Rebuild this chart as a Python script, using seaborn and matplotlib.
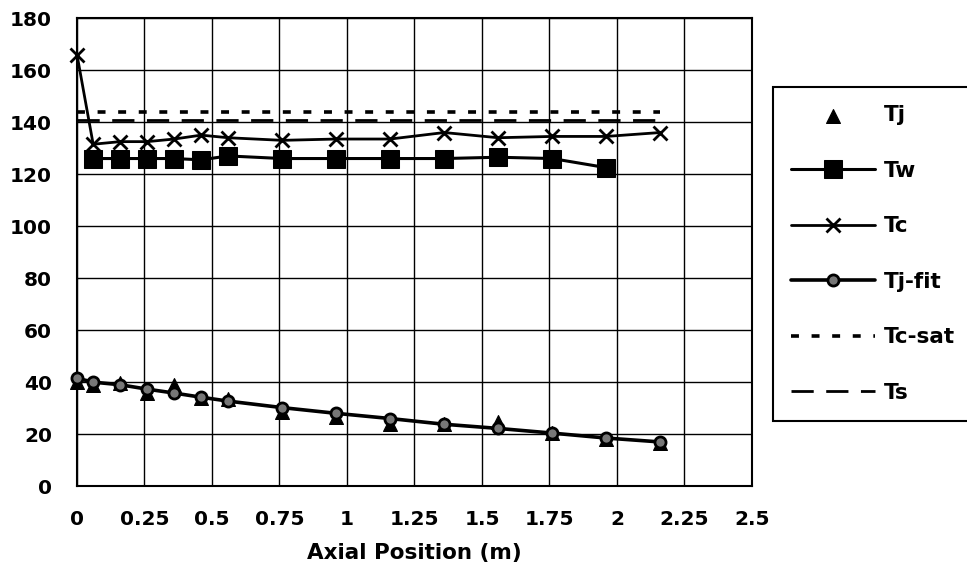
import matplotlib
matplotlib.use("Agg")
import matplotlib.pyplot as plt
import seaborn as sns

# axial positions (m)
x_tj = [0, 0.06, 0.16, 0.26, 0.36, 0.46, 0.56, 0.76, 0.96, 1.16, 1.36, 1.56, 1.76, 1.96, 2.16]
tj = [40, 39, 39.5, 36, 39, 34, 33.5, 28.5, 26.5, 24, 24, 24.5, 20.5, 18, 16.5]

x_tw = [0.06, 0.16, 0.26, 0.36, 0.46, 0.56, 0.76, 0.96, 1.16, 1.36, 1.56, 1.76, 1.96]
tw = [126, 126, 126, 126, 125.5, 127, 126, 126, 126, 126, 126.5, 126, 122.5]

x_tc = [0, 0.06, 0.16, 0.26, 0.36, 0.46, 0.56, 0.76, 0.96, 1.16, 1.36, 1.56, 1.76, 1.96, 2.16]
tc = [166, 131.5, 132.5, 132.5, 133.5, 135, 134, 133, 133.5, 133.5, 136, 134, 134.5, 134.5, 136]

x_fit = [0, 0.06, 0.16, 0.26, 0.36, 0.46, 0.56, 0.76, 0.96, 1.16, 1.36, 1.56, 1.76, 1.96, 2.16]
tj_fit = [41.5, 40, 39, 37.3, 35.8, 34.2, 32.7, 30.2, 28, 26, 23.8, 22.2, 20.4, 18.5, 17]

x_sat = [0, 2.16]
tc_sat = [144, 144]
ts = [141, 141]

sns.set_style("white")
plt.rcParams["font.family"] = ["DejaVu Sans"]
plt.rcParams["font.weight"] = "bold"
for key in ["text.color", "axes.labelcolor", "xtick.color", "ytick.color"]:
    plt.rcParams[key] = "black"

fig = plt.figure(figsize=(9.67, 5.85), dpi=100)
ax = fig.add_axes([0.0796, 0.169, 0.698, 0.8])

sns.scatterplot(x=x_tj, y=tj, ax=ax, marker="^", s=100, color="black",
                edgecolor="black", label="Tj", zorder=5, clip_on=False)
sns.lineplot(x=x_tw, y=tw, ax=ax, color="black", lw=2.2, marker="s", ms=13,
             mec="black", mfc="black", sort=False, label="Tw", zorder=4)
sns.lineplot(x=x_tc, y=tc, ax=ax, color="black", lw=2.0, marker="x", ms=10,
             mec="black", mew=2.0, sort=False, label="Tc", zorder=4, clip_on=False)
sns.lineplot(x=x_fit, y=tj_fit, ax=ax, color="black", lw=2.6, marker="o", ms=8,
             mfc="#777777", mec="black", mew=2, sort=False, label="Tj-fit", zorder=6,
             clip_on=False)
sns.lineplot(x=x_sat, y=tc_sat, ax=ax, color="black", lw=2.6, sort=False,
             label="Tc-sat", zorder=3)
sns.lineplot(x=x_sat, y=ts, ax=ax, color="black", lw=2.0, sort=False,
             label="Ts", zorder=3)
ax.lines[-2].set_dashes([2.2, 3.5])
ax.lines[-1].set_dashes([8, 4.5])

ax.set_xlim(0, 2.5)
ax.set_ylim(0, 180)
ax.set_xticks([0, 0.25, 0.5, 0.75, 1, 1.25, 1.5, 1.75, 2, 2.25, 2.5])
ax.set_xticklabels(["0", "0.25", "0.5", "0.75", "1", "1.25", "1.5", "1.75", "2", "2.25", "2.5"])
ax.set_yticks(range(0, 181, 20))
ax.grid(True, color="black", lw=1.0)
ax.set_axisbelow(True)
for sp in ax.spines.values():
    sp.set_color("black")
    sp.set_linewidth(1.5)
ax.tick_params(direction="inout", length=8, width=1.2, color="black", labelsize=14.5)
ax.tick_params(axis="x", pad=13)
ax.tick_params(axis="y", pad=14)
for lbl in ax.get_xticklabels() + ax.get_yticklabels():
    lbl.set_fontweight("bold")
ax.set_xlabel("Axial Position (m)", fontsize=15.5, fontweight="bold", labelpad=10)
ax.set_ylabel("")

handles, labels = ax.get_legend_handles_labels()
leg = ax.legend(handles, labels, loc="upper left",
                bbox_to_anchor=(773 / 967, 1 - 87 / 585), bbox_transform=fig.transFigure,
                frameon=True, fancybox=False, edgecolor="black", framealpha=1,
                prop={"weight": "bold", "size": 15.5}, handlelength=3.9,
                handletextpad=0.4, labelspacing=1.65, borderpad=0.85,
                borderaxespad=0)
leg.get_frame().set_linewidth(1.5)
leg.set_clip_on(False)

fig.savefig("out.png", dpi=100)
